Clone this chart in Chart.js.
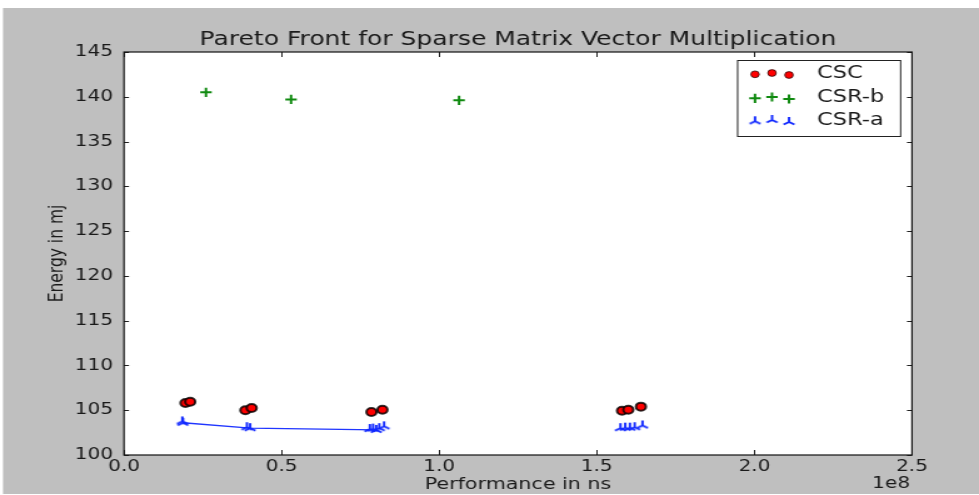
<!DOCTYPE html>
<html>
<head>
<meta charset="utf-8">
<script src="https://cdn.jsdelivr.net/npm/chart.js@4/dist/chart.umd.min.js"></script>
<style>
html, body { margin: 0; padding: 0; background: #fff; overflow: hidden; }
#wrap { position: absolute; left: 0; top: 0; width: 783px; height: 495px;
        transform: scaleX(1.25032); transform-origin: 0 0; }
canvas { display: block; }
</style>
</head>
<body>
<div id="wrap"><canvas id="chart" width="783" height="495"></canvas></div>
<script>
// Measurements: performance (ns) and energy (mJ) for each storage format
const cscPerf    = [1.95e7, 2.1e7, 3.85e7, 4.05e7, 7.85e7, 8.2e7, 1.58e8, 1.60e8, 1.64e8];
const cscEnergy  = [105.8, 105.95, 105.0, 105.25, 104.8, 105.05, 104.95, 105.05, 105.4];

const csrbPerf   = [2.6e7, 5.3e7, 1.063e8];
const csrbEnergy = [140.5, 139.7, 139.6];

const csraPerf   = [1.85e7, 1.87e7, 3.9e7, 4.0e7, 7.8e7, 7.9e7, 8.0e7, 8.1e7, 8.25e7,
                    1.575e8, 1.59e8, 1.605e8, 1.62e8, 1.645e8];
const csraEnergy = [103.75, 103.6, 103.1, 103.0, 102.9, 102.95, 102.8, 103.0, 103.2,
                    103.0, 103.05, 103.05, 103.1, 103.3];

// Pareto-optimal CSR-a configurations
const frontPerf   = [1.87e7, 4.0e7, 8.0e7];
const frontEnergy = [103.6, 103.0, 102.8];

const seriesNames = ['CSC', 'CSR-b', 'CSR-a'];

const xTickValues = [0, 0.5e8, 1.0e8, 1.5e8, 2.0e8, 2.5e8];
const xTickLabels = ['0.0', '0.5', '1.0', '1.5', '2.0', '2.5'];
const yTickValues = [100, 105, 110, 115, 120, 125, 130, 135, 140, 145];
const yTickLabels = ['100', '105', '110', '115', '120', '125', '130', '135', '140', '145'];

const W = 783, H = 495;
const SX = 979 / W;           // horizontal stretch applied by CSS
const FONT = 'DejaVu Sans';
const INK = '#1a1a1a';

const pts = (xs, ys) => xs.map((x, i) => ({ x: x, y: ys[i] }));

// tri_up marker
function makeTri(color) {
  const c = document.createElement('canvas');
  c.width = 14; c.height = 14;
  const g = c.getContext('2d');
  const r = 5, cx = 7, cy = 7;
  g.strokeStyle = color; g.lineWidth = 1.9; g.lineCap = 'butt';
  g.beginPath();
  g.moveTo(cx, cy); g.lineTo(cx, cy - r);
  g.moveTo(cx, cy); g.lineTo(cx - 0.866 * r, cy + 0.5 * r);
  g.moveTo(cx, cy); g.lineTo(cx + 0.866 * r, cy + 0.5 * r);
  g.stroke();
  return c;
}
const triBlue = makeTri('#1028ff');

const styles = {
  csc:  { pointStyle: 'circle', radius: 4,   fill: '#ff0000', stroke: 'rgba(0,0,0,0.8)', width: 2 },
  csrb: { pointStyle: 'cross',  radius: 4.6, fill: '#108a10', stroke: '#108a10', width: 2 },
  csra: { pointStyle: triBlue,  radius: 5,   fill: '#1028ff', stroke: '#1028ff', width: 0 }
};

function tickSetter(values) {
  return function (scale) { scale.ticks = values.map(v => ({ value: v })); };
}

const decor = {
  id: 'decor',
  beforeDraw(chart) {
    const ctx = chart.ctx, ca = chart.chartArea;
    ctx.save();
    ctx.fillStyle = '#ffffff';
    ctx.fillRect(0, 0, W, H);
    ctx.fillStyle = '#bfbfbf';
    ctx.fillRect(3 / SX, 8, W - 3 / SX, H - 9);
    ctx.fillStyle = '#ffffff';
    ctx.fillRect(ca.left, ca.top, ca.right - ca.left, ca.bottom - ca.top);
    ctx.restore();
  },
  afterDraw(chart) {
    const ctx = chart.ctx, ca = chart.chartArea;
    const xs = chart.scales.x, ys = chart.scales.y;
    ctx.save();
    // inward tick marks on all four sides
    ctx.strokeStyle = '#222';
    ctx.lineWidth = 1;
    ctx.beginPath();
    xTickValues.forEach(v => {
      const p = Math.round(xs.getPixelForValue(v)) + 0.5;
      ctx.moveTo(p, ca.bottom); ctx.lineTo(p, ca.bottom - 5);
      ctx.moveTo(p, ca.top);    ctx.lineTo(p, ca.top + 5);
    });
    yTickValues.forEach(v => {
      const p = Math.round(ys.getPixelForValue(v)) + 0.5;
      ctx.moveTo(ca.left, p);  ctx.lineTo(ca.left + 4, p);
      ctx.moveTo(ca.right, p); ctx.lineTo(ca.right - 4, p);
    });
    ctx.stroke();
    // axes frame
    ctx.strokeStyle = '#111';
    ctx.lineWidth = 1.2;
    ctx.strokeRect(ca.left, ca.top, ca.right - ca.left, ca.bottom - ca.top);

    // offset text of the x axis
    ctx.fillStyle = INK;
    ctx.font = '16px "' + FONT + '"';
    ctx.textAlign = 'right';
    ctx.textBaseline = 'middle';
    ctx.fillText('1e8', 910 / SX, 484);

    // legend
    const bx = 737 / SX, bw = (900 - 737) / SX, by = 60, bh = 76;
    ctx.fillStyle = '#ffffff';
    ctx.fillRect(bx, by, bw, bh);
    ctx.strokeStyle = '#222';
    ctx.lineWidth = 1;
    ctx.strokeRect(bx + 0.5, by + 0.5, bw, bh);
    const rows = [
      { s: styles.csc,  y: 73 },
      { s: styles.csrb, y: 97 },
      { s: styles.csra, y: 120 }
    ];
    const mx = [755 / SX, 772 / SX, 789 / SX];
    const my = [1.3, 0, 2];
    rows.forEach((r, i) => {
      mx.forEach((x, k) => {
        ctx.fillStyle = r.s.fill;
        ctx.strokeStyle = r.s.stroke;
        ctx.lineWidth = r.s.width;
        const rad = r.s === styles.csc ? 3.4 : r.s.radius;
        const bw2 = r.s === styles.csc ? 0.8 : r.s.width;
        ctx.lineWidth = bw2;
        Chart.helpers.drawPoint(ctx, { pointStyle: r.s.pointStyle, radius: rad, rotation: 0, borderWidth: bw2 }, x, r.y + my[k]);
      });
      ctx.fillStyle = INK;
      ctx.font = '18px "' + FONT + '"';
      ctx.textAlign = 'left';
      ctx.textBaseline = 'middle';
      ctx.fillText(seriesNames[i], 817 / SX, r.y);
    });
    ctx.restore();
  }
};

const chart = new Chart(document.getElementById('chart'), {
  type: 'scatter',
  data: {
    datasets: [
      {
        label: seriesNames[2], data: pts(csraPerf, csraEnergy), order: 1,
        pointStyle: styles.csra.pointStyle, pointRadius: styles.csra.radius,
        backgroundColor: styles.csra.fill, borderColor: styles.csra.stroke, pointBorderWidth: 0
      },
      {
        label: 'front', data: pts(frontPerf, frontEnergy), order: 2, showLine: true,
        pointRadius: 0, borderColor: '#2036ff', borderWidth: 1.4, fill: false
      },
      {
        label: seriesNames[1], data: pts(csrbPerf, csrbEnergy), order: 3,
        pointStyle: 'cross', pointRadius: styles.csrb.radius,
        backgroundColor: styles.csrb.fill, borderColor: styles.csrb.stroke, pointBorderWidth: styles.csrb.width
      },
      {
        label: seriesNames[0], data: pts(cscPerf, cscEnergy), order: 4,
        pointStyle: 'circle', pointRadius: styles.csc.radius,
        backgroundColor: styles.csc.fill, borderColor: styles.csc.stroke, pointBorderWidth: styles.csc.width
      }
    ]
  },
  options: {
    responsive: false,
    animation: false,
    devicePixelRatio: 1,
    events: [],
    layout: { padding: { left: 0, right: W - 912 / SX, top: 0, bottom: 0 } },
    plugins: {
      legend: { display: false },
      tooltip: { enabled: false },
      title: {
        display: true, fullSize: false,
        text: 'Pareto Front for Sparse Matrix Vector Multiplication',
        color: INK, font: { family: FONT, size: 20, weight: 'normal' },
        padding: { top: 28, bottom: 0 }
      }
    },
    scales: {
      x: {
        type: 'linear', position: 'bottom', min: 0, max: 2.5e8,
        afterBuildTicks: tickSetter(xTickValues),
        afterFit: s => { s.height = 40; },
        grid: { display: false, drawTicks: false },
        border: { display: false },
        ticks: {
          autoSkip: false, maxRotation: 0, minRotation: 0, padding: 2, color: INK,
          font: { family: FONT, size: 16 },
          callback: (v, i) => xTickLabels[i]
        },
        title: {
          display: true, text: 'Performance in ns', color: INK,
          font: { family: FONT, size: 16.5 }, padding: { top: 0, bottom: 0 }
        }
      },
      y: {
        type: 'linear', position: 'left', min: 100, max: 145,
        afterBuildTicks: tickSetter(yTickValues),
        afterFit: s => { s.width = 124 / SX; },
        grid: { display: false, drawTicks: false },
        border: { display: false },
        ticks: {
          autoSkip: false, padding: 8.8, color: INK,
          font: { family: FONT, size: 16 },
          callback: (v, i) => yTickLabels[i]
        },
        title: {
          display: true, text: 'Energy in mj', color: INK,
          font: { family: FONT, size: 15.5 }, padding: { top: 37, bottom: 0 }
        }
      }
    }
  },
  plugins: [decor]
});
</script>
</body>
</html>
